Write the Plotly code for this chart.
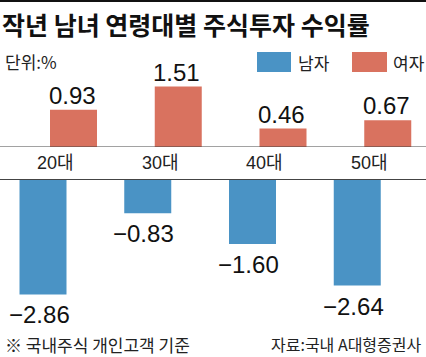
import plotly.graph_objects as go

categories = ["20대", "30대", "40대", "50대"]
male = [-2.86, -0.83, -1.60, -2.64]
female = [0.93, 1.51, 0.46, 0.67]
title_text = "작년 남녀 연령대별 주식투자 수익률"
unit_text = "단위:%"
legend_names = ["남자", "여자"]
note_text = "※ 국내주식 개인고객 기준"
source_text = "자료:국내 A대형증권사"

W, H = 426, 357
BLUE = "#4a93c5"
RED = "#d9725f"
NUM = "Liberation Sans, Arial, Noto Sans CJK KR"
KR = "Noto Sans CJK KR"


def py(p):
    return 1 - p / H


def fmt(v):
    return f"{v:.2f}".replace("-", "\u2212")


PX_UNIT = 104.75
bar_w = 47 / PX_UNIT
fig = go.Figure()
fig.add_trace(go.Bar(x=categories, y=female, yaxis="y", marker_color=RED,
                     marker_line_width=0, width=bar_w, offset=-8.25 / PX_UNIT,
                     name=legend_names[1], showlegend=False, hoverinfo="skip"))
fig.add_trace(go.Bar(x=categories, y=male, yaxis="y2", marker_color=BLUE,
                     marker_line_width=0, width=bar_w, offset=-38.75 / PX_UNIT,
                     name=legend_names[0], showlegend=False, hoverinfo="skip"))

ann = []
for c, v in zip(categories, female):
    ann.append(dict(x=c, y=v, xref="x", yref="y", text=fmt(v), showarrow=False,
                    yanchor="bottom", xshift=13.75, yshift=-1,
                    font=dict(family=NUM, size=24, color="#111")))
for c, v in zip(categories, male):
    ann.append(dict(x=c, y=v, xref="x", yref="y2", text=fmt(v), showarrow=False,
                    yanchor="top", xshift=-19.25, yshift=-5,
                    font=dict(family=NUM, size=24, color="#111")))
for c in categories:
    ann.append(dict(x=c, y=py(163), xref="x", yref="paper", text=c, showarrow=False,
                    yanchor="middle", xshift=-3,
                    font=dict(family=NUM, size=18, color="#222")))

ann.append(dict(x=0, y=py(24), xref="paper", yref="paper", text=f"<b>{title_text}</b>",
                showarrow=False, xanchor="left", yanchor="middle",
                font=dict(family=KR, size=25, color="#111")))
ann.append(dict(x=3 / W, y=py(61), xref="paper", yref="paper", text=unit_text,
                showarrow=False, xanchor="left", yanchor="middle",
                font=dict(family=KR, size=17, color="#222")))
ann.append(dict(x=296 / W, y=py(62), xref="paper", yref="paper", text=legend_names[0],
                showarrow=False, xanchor="left", yanchor="middle",
                font=dict(family=KR, size=17, color="#222")))
ann.append(dict(x=391 / W, y=py(62), xref="paper", yref="paper", text=legend_names[1],
                showarrow=False, xanchor="left", yanchor="middle",
                font=dict(family=KR, size=17, color="#222")))
ann.append(dict(x=3 / W, y=py(344), xref="paper", yref="paper", text=note_text,
                showarrow=False, xanchor="left", yanchor="middle",
                font=dict(family=KR, size=17, color="#222")))
ann.append(dict(x=424 / W, y=py(344), xref="paper", yref="paper", text=source_text,
                showarrow=False, xanchor="right", yanchor="middle",
                font=dict(family=KR, size=16, color="#222")))

shapes = [
    dict(type="rect", xref="paper", yref="paper", x0=0, x1=1, y0=py(2), y1=1,
         fillcolor="#111", line_width=0),
    dict(type="line", xref="paper", yref="y", x0=0, x1=1, y0=0, y1=0,
         line=dict(color="#444", width=1)),
    dict(type="line", xref="paper", yref="paper", x0=0, x1=1, y0=py(179.5), y1=py(179.5),
         line=dict(color="#444", width=1)),
    dict(type="rect", xref="paper", yref="paper", x0=257 / W, x1=291 / W,
         y0=py(72), y1=py(52), fillcolor=BLUE, line_width=0),
    dict(type="rect", xref="paper", yref="paper", x0=352 / W, x1=387 / W,
         y0=py(72), y1=py(52), fillcolor=RED, line_width=0),
]

fig.update_layout(
    width=W, height=H, margin=dict(l=0, r=0, t=0, b=0),
    paper_bgcolor="white", plot_bgcolor="rgba(0,0,0,0)",
    barmode="overlay", showlegend=False,
    xaxis=dict(type="category", categoryorder="array", categoryarray=categories,
               range=[-58.25 / PX_UNIT, (W - 58.25) / PX_UNIT], visible=False,
               anchor="y2"),
    yaxis=dict(domain=[py(147), py(67)], range=[0, 80 / 40], visible=False,
               anchor="x"),
    yaxis2=dict(domain=[py(320), py(180)], range=[-140 / 40, 0], visible=False,
                anchor="x"),
    annotations=ann, shapes=shapes,
)
fig.write_html("out.html", config={"displayModeBar": False},
               post_script="document.body.style.margin='0';document.body.style.padding='0';")
